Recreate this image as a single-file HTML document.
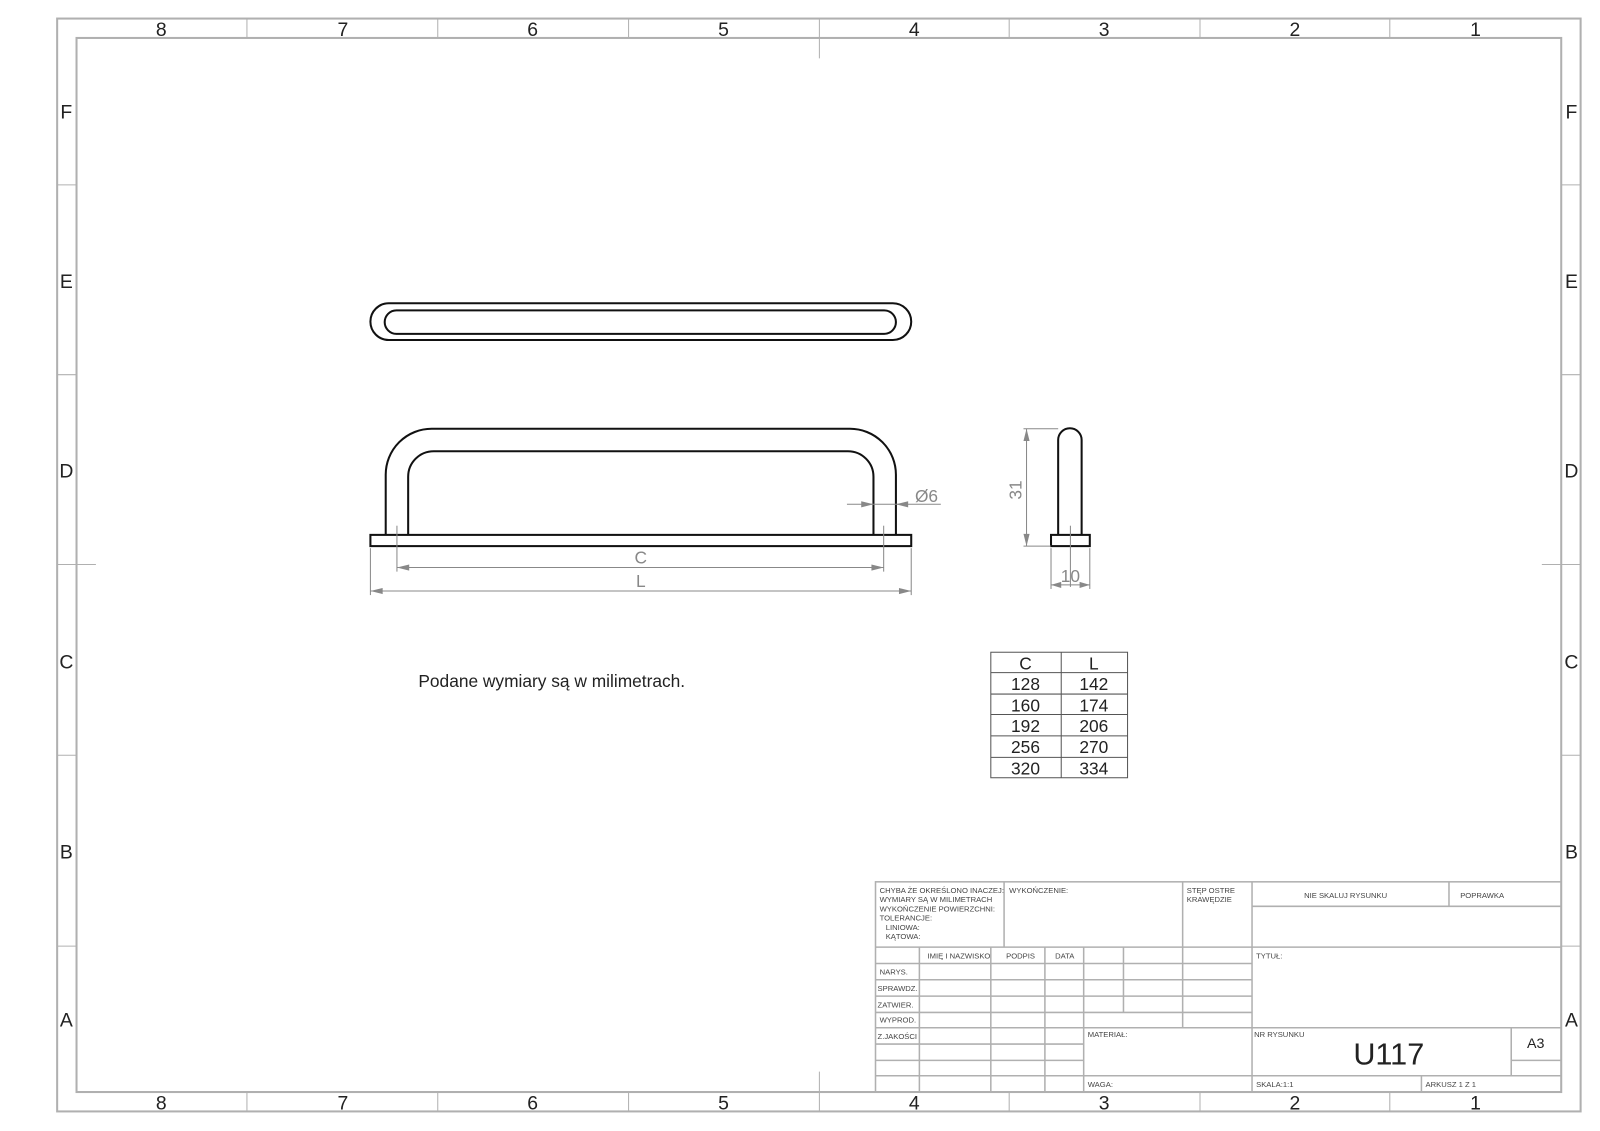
<!DOCTYPE html>
<html><head><meta charset="utf-8"><style>html,body{margin:0;padding:0;background:#fff}svg{display:block}</style></head>
<body>
<svg xmlns="http://www.w3.org/2000/svg" width="1600" height="1131" viewBox="0 0 1568 1108" font-family="Liberation Sans, sans-serif">
<rect width="1568" height="1108" fill="#fff"/>
<g fill="none" stroke="#b0b0b0" stroke-width="2">
<rect x="56" y="18" width="1493" height="1071"/>
<rect x="75" y="37" width="1455" height="1033"/>
</g>
<g stroke="#b0b0b0" stroke-width="1">
<line x1="242" y1="18" x2="242" y2="37"/><line x1="429" y1="18" x2="429" y2="37"/><line x1="616" y1="18" x2="616" y2="37"/><line x1="803" y1="18" x2="803" y2="57"/><line x1="989" y1="18" x2="989" y2="37"/><line x1="1176" y1="18" x2="1176" y2="37"/><line x1="1362" y1="18" x2="1362" y2="37"/>
<line x1="242" y1="1070" x2="242" y2="1089"/><line x1="429" y1="1070" x2="429" y2="1089"/><line x1="616" y1="1070" x2="616" y2="1089"/><line x1="803" y1="1050" x2="803" y2="1089"/><line x1="989" y1="1070" x2="989" y2="1089"/><line x1="1176" y1="1070" x2="1176" y2="1089"/><line x1="1362" y1="1070" x2="1362" y2="1089"/>
<line x1="56" y1="181" x2="75" y2="181"/><line x1="56" y1="367" x2="75" y2="367"/><line x1="56" y1="553" x2="94" y2="553"/><line x1="56" y1="740" x2="75" y2="740"/><line x1="56" y1="927" x2="75" y2="927"/>
<line x1="1530" y1="181" x2="1549" y2="181"/><line x1="1530" y1="367" x2="1549" y2="367"/><line x1="1511" y1="553" x2="1549" y2="553"/><line x1="1530" y1="740" x2="1549" y2="740"/><line x1="1530" y1="927" x2="1549" y2="927"/>
</g>
<g font-size="19" fill="#222" text-anchor="middle">
<text x="158" y="35">8</text><text x="336" y="35">7</text><text x="522" y="35">6</text><text x="709" y="35">5</text><text x="896" y="35">4</text><text x="1082" y="35">3</text><text x="1269" y="35">2</text><text x="1446" y="35">1</text>
<text x="158" y="1087">8</text><text x="336" y="1087">7</text><text x="522" y="1087">6</text><text x="709" y="1087">5</text><text x="896" y="1087">4</text><text x="1082" y="1087">3</text><text x="1269" y="1087">2</text><text x="1446" y="1087">1</text>
<text x="65" y="116">F</text><text x="65" y="282">E</text><text x="65" y="468">D</text><text x="65" y="655">C</text><text x="65" y="841">B</text><text x="65" y="1006">A</text>
<text x="1540" y="116">F</text><text x="1540" y="282">E</text><text x="1540" y="468">D</text><text x="1540" y="655">C</text><text x="1540" y="841">B</text><text x="1540" y="1006">A</text>
</g>
<!-- top view -->
<g fill="none" stroke="#111" stroke-width="2">
<rect x="363" y="297" width="530" height="36" rx="18"/>
<rect x="377" y="304" width="501" height="23" rx="11.5"/>
<!-- front view -->
<rect x="363" y="524" width="530" height="11"/>
<path d="M378 524 V465 A45 45 0 0 1 423 420 H833 A45 45 0 0 1 878 465 V524"/>
<path d="M400 524 V467 A25 25 0 0 1 425 442 H831 A25 25 0 0 1 856 467 V524"/>
<!-- side view -->
<path d="M1037 524 V431 A11.5 11.5 0 0 1 1060 431 V524"/>
<rect x="1030" y="524" width="38" height="11"/>
</g>
<g stroke="#888" stroke-width="1" fill="none">
<line x1="389" y1="515" x2="389" y2="560"/><line x1="866" y1="515" x2="866" y2="560"/>
<line x1="389" y1="556" x2="866" y2="556"/>
<line x1="363" y1="537" x2="363" y2="583"/><line x1="893" y1="537" x2="893" y2="583"/>
<line x1="363" y1="579" x2="893" y2="579"/>
<line x1="830" y1="494" x2="922" y2="494"/>
<line x1="1003" y1="420" x2="1037" y2="420"/><line x1="1003" y1="535" x2="1030" y2="535"/>
<line x1="1006" y1="420" x2="1006" y2="535"/>
<line x1="1030" y1="537" x2="1030" y2="577"/><line x1="1068" y1="537" x2="1068" y2="577"/>
<line x1="1030" y1="573" x2="1068" y2="573"/><line x1="1049" y1="515" x2="1049" y2="575"/>
</g>
<g fill="#888">
<path d="M389 556 l12 -3 v6z"/><path d="M866 556 l-12 -3 v6z"/>
<path d="M363 579 l12 -3 v6z"/><path d="M893 579 l-12 -3 v6z"/>
<path d="M856 494 l-12 -3 v6z"/><path d="M878 494 l12 -3 v6z"/>
<path d="M1006 420 l-3 12 h6z"/><path d="M1006 535 l-3 -12 h6z"/>
<path d="M1030 573 l10 -3 v6z"/><path d="M1068 573 l-10 -3 v6z"/>
</g>
<g fill="#888" font-size="17" text-anchor="middle">
<text x="628" y="552">C</text><text x="628" y="575">L</text>
<text x="908" y="492">Ø6</text>
<text x="1049" y="570">10</text>
<text transform="translate(1001 480) rotate(-90)" >31</text>
</g>
<text x="410" y="673" font-size="17" fill="#222">Podane wymiary są w milimetrach.</text>
<!-- table -->
<g stroke="#555" stroke-width="1" fill="none">
<rect x="971" y="639" width="134" height="123"/>
<line x1="1040" y1="639" x2="1040" y2="762"/>
<line x1="971" y1="659" x2="1105" y2="659"/><line x1="971" y1="680" x2="1105" y2="680"/><line x1="971" y1="700" x2="1105" y2="700"/><line x1="971" y1="721" x2="1105" y2="721"/><line x1="971" y1="742" x2="1105" y2="742"/>
</g>
<g font-size="17" fill="#222" text-anchor="middle">
<text x="1005" y="656">C</text><text x="1072" y="656">L</text>
<text x="1005" y="676">128</text><text x="1072" y="676">142</text>
<text x="1005" y="697">160</text><text x="1072" y="697">174</text>
<text x="1005" y="717">192</text><text x="1072" y="717">206</text>
<text x="1005" y="738">256</text><text x="1072" y="738">270</text>
<text x="1005" y="759">320</text><text x="1072" y="759">334</text>
</g>
<!-- title block -->
<g stroke="#b0b0b0" stroke-width="1.5" fill="none">
<rect x="858" y="864" width="672" height="206"/>
<line x1="858" y1="928" x2="1530" y2="928"/>
<line x1="984" y1="864" x2="984" y2="928"/><line x1="1159" y1="864" x2="1159" y2="1007"/><line x1="1227" y1="864" x2="1227" y2="1070"/>
<line x1="1420" y1="864" x2="1420" y2="888"/><line x1="1227" y1="888" x2="1530" y2="888"/>
<line x1="858" y1="944" x2="1227" y2="944"/><line x1="858" y1="960" x2="1227" y2="960"/><line x1="858" y1="976" x2="1227" y2="976"/><line x1="858" y1="992" x2="1227" y2="992"/>
<line x1="858" y1="1007" x2="1530" y2="1007"/>
<line x1="858" y1="1023" x2="1062" y2="1023"/><line x1="858" y1="1039" x2="1062" y2="1039"/><line x1="858" y1="1054" x2="1530" y2="1054"/>
<line x1="901" y1="928" x2="901" y2="1070"/><line x1="971" y1="928" x2="971" y2="1070"/><line x1="1024" y1="928" x2="1024" y2="1070"/><line x1="1062" y1="928" x2="1062" y2="1070"/>
<line x1="1101" y1="928" x2="1101" y2="992"/>
<line x1="1481" y1="1007" x2="1481" y2="1054"/><line x1="1481" y1="1039" x2="1530" y2="1039"/>
<line x1="1393" y1="1054" x2="1393" y2="1070"/>
</g>
<g font-size="7.5" fill="#444">
<text x="862" y="875">CHYBA ŻE OKREŚLONO INACZEJ:</text>
<text x="862" y="884">WYMIARY SĄ W MILIMETRACH</text>
<text x="862" y="893">WYKOŃCZENIE POWIERZCHNI:</text>
<text x="862" y="902">TOLERANCJE:</text>
<text x="868" y="911">LINIOWA:</text>
<text x="868" y="920">KĄTOWA:</text>
<text x="989" y="875">WYKOŃCZENIE:</text>
<text x="1163" y="875">STĘP OSTRE</text><text x="1163" y="884">KRAWĘDZIE</text>
<text x="1278" y="880">NIE SKALUJ RYSUNKU</text>
<text x="1431" y="880">POPRAWKA</text>
<text x="909" y="939">IMIĘ I NAZWISKO</text><text x="986" y="939">PODPIS</text><text x="1034" y="939">DATA</text>
<text x="1231" y="939">TYTUŁ:</text>
<text x="862" y="955">NARYS.</text><text x="860" y="971">SPRAWDZ.</text><text x="860" y="987">ZATWIER.</text><text x="862" y="1002">WYPROD.</text><text x="860" y="1018">Z.JAKOŚCI</text>
<text x="1066" y="1016">MATERIAŁ:</text><text x="1229" y="1016">NR RYSUNKU</text>
<text x="1066" y="1065">WAGA:</text><text x="1231" y="1065">SKALA:1:1</text><text x="1397" y="1065">ARKUSZ 1 Z 1</text>
</g>
<text x="1361" y="1043" font-size="30" fill="#222" text-anchor="middle">U117</text>
<text x="1505" y="1027" font-size="14" fill="#222" text-anchor="middle">A3</text>
</svg>
</body></html>
